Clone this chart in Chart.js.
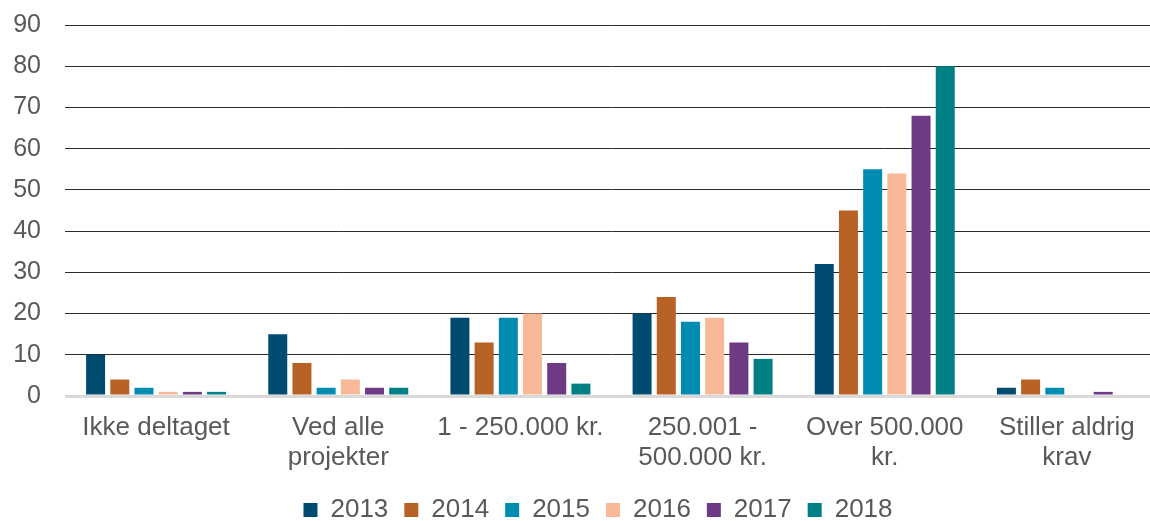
<!DOCTYPE html>
<html>
<head>
<meta charset="utf-8">
<script src="https://cdn.jsdelivr.net/npm/chart.js@4/dist/chart.umd.min.js"></script>
<style>
  html, body { margin:0; padding:0; background:#fff; overflow:hidden; }
  /* plotområdet går lidt ud over billedkanten til højre */
  #wrap { width:1150px; height:521px; overflow:hidden; }
</style>
</head>
<body>
<div id="wrap"><canvas id="c" width="1158" height="521"></canvas></div>
<script>
// kategorier + serier
const categories = [
  ["Ikke deltaget"],
  ["Ved alle", "projekter"],
  ["1 - 250.000 kr."],
  ["250.001 -", "500.000 kr."],
  ["Over 500.000", "kr."],
  ["Stiller aldrig", "krav"]
];
const years = ["2013", "2014", "2015", "2016", "2017", "2018"];
const v2013 = [10, 15, 19, 20, 32, 2];
const v2014 = [4, 8, 13, 24, 45, 4];
const v2015 = [2, 2, 19, 18, 55, 2];
const v2016 = [1, 4, 20, 19, 54, 0];
const v2017 = [1, 2, 8, 13, 68, 1];
const v2018 = [1, 2, 3, 9, 80, 0];
const yTicks = [0, 10, 20, 30, 40, 50, 60, 70, 80, 90];
const colors = ["#004C70", "#B86125", "#008CB0", "#F8B998", "#6F3A84", "#008084"];

const series = [v2013, v2014, v2015, v2016, v2017, v2018];
const FONT = "'Liberation Sans', Arial, sans-serif";

// legenden sidder lidt til højre for midten i originalen
const legendShift = {
  id: 'legendShift',
  afterLayout(chart) {
    if (!chart.legend) return;
    chart.legend.left += 19;
    chart.legend.right += 19;
  }
};

new Chart(document.getElementById('c').getContext('2d'), {
  type: 'bar',
  data: {
    labels: categories,
    datasets: series.map((d, i) => ({
      label: years[i],
      data: d,
      backgroundColor: colors[i],
      borderWidth: 0,
      barPercentage: 0.785,
      categoryPercentage: 0.797
    }))
  },
  plugins: [legendShift],
  options: {
    responsive: false,
    animation: false,
    layout: { padding: { top: 25, right: 0, bottom: -12, left: 0 } },
    plugins: {
      tooltip: { enabled: false },
      legend: {
        position: 'bottom',
        labels: {
          font: { family: FONT, size: 26 },
          color: '#595959',
          boxWidth: 14,
          boxHeight: 14,
          padding: 16
        }
      }
    },
    scales: {
      y: {
        min: yTicks[0], max: yTicks[yTicks.length - 1],
        afterBuildTicks: s => { s.ticks = yTicks.map(v => ({ value: v })); },
        ticks: { padding: 24, color: '#595959', font: { family: FONT, size: 25 } },
        grid: {
          drawTicks: false,
          color: c => c.tick && c.tick.value === 0 ? '#d9d9d9' : '#2b2b2b',
          lineWidth: c => c.tick && c.tick.value === 0 ? 3 : 1
        },
        border: { display: false },
        afterFit: s => { s.width = 65; s.paddingTop = 0; }
      },
      x: {
        ticks: { maxRotation: 0, autoSkip: false, padding: 17, color: '#595959', font: { family: FONT, size: 26, lineHeight: 1.15 } },
        grid: { display: false, drawTicks: false },
        border: { display: false },
        afterFit: s => { s.height = 85; }
      }
    }
  }
});
</script>
</body>
</html>
